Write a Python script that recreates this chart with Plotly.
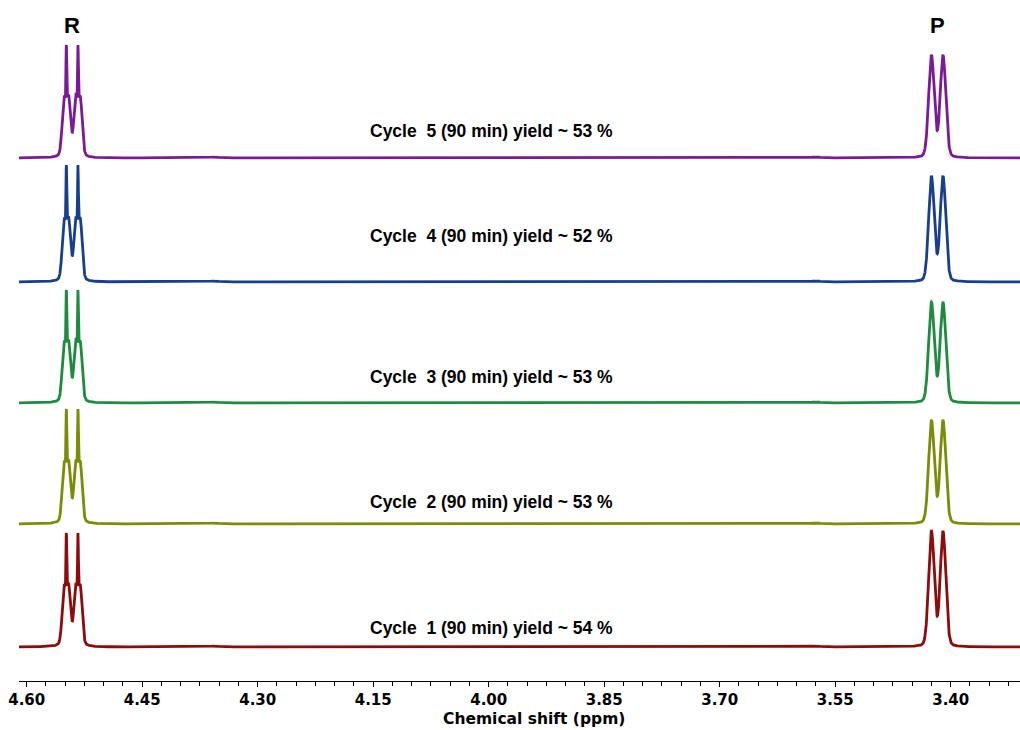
import numpy as np
import plotly.graph_objects as go

# ---- data -----------------------------------------------------------------
cycles = [1, 2, 3, 4, 5]
yields = [54, 53, 53, 52, 53]          # % yield per cycle
reactant_height = [114, 115, 113, 117, 113]   # R multiplet max intensity (a.u.)
product_height = [116, 104, 101, 106, 103]    # P doublet max intensity (a.u.)

r_lines = [4.5485, 4.5334]     # R doublet line positions (ppm)
p_lines = [3.4250, 3.4100]     # P doublet line positions (ppm)
minor_lines = [4.356, 3.575]   # weak baseline features (ppm)
minor_height = [1.0, 1.0]

tick_vals = [4.60, 4.45, 4.30, 4.15, 4.00, 3.85, 3.70, 3.55, 3.40]

# ---- styling --------------------------------------------------------------
colors = ["#8e0b0b", "#7b8c05", "#1d8c3c", "#173f8e", "#7a1a98"]
offsets = [34, 157, 278, 399, 523]
label_y = [53, 179, 304, 445, 550]

ppm = np.linspace(4.61, 3.31, 9000)


def lorentz(x, x0, w):
    return 1.0 / (1.0 + ((x - x0) / w) ** 2)


def gauss(x, x0, s):
    return np.exp(-0.5 * ((x - x0) / s) ** 2)


def r_shape(x):
    s = np.zeros_like(x)
    for c in r_lines:
        s += 0.50 * gauss(x, c, 0.0005)
        for d in (-0.003, 0.003):
            s += 0.42 * gauss(x, c + d, 0.0024) + 0.07 * lorentz(x, c + d, 0.004)
    return s / s.max()


def p_shape(x):
    s = np.zeros_like(x)
    for c in p_lines:
        s += 0.86 * gauss(x, c, 0.0036) + 0.14 * lorentz(x, c, 0.0045)
    return s / s.max()


def minor_shape(x):
    s = np.zeros_like(x)
    for c, h in zip(minor_lines, minor_height):
        s += h * lorentz(x, c, 0.008)
    return s


fig = go.Figure()
for i, cyc in enumerate(cycles):
    y = (reactant_height[i] * r_shape(ppm)
         + product_height[i] * p_shape(ppm)
         + minor_shape(ppm) + offsets[i])
    fig.add_trace(go.Scatter(
        x=ppm, y=y, mode="lines",
        line=dict(color=colors[i], width=2.8),
        name=f"Cycle {cyc}", hoverinfo="skip", showlegend=False,
    ))
    fig.add_annotation(
        x=3.997, y=label_y[i], xref="x", yref="y",
        text=f"<b>Cycle  {cyc} (90 min) yield ~ {yields[i]} %</b>",
        showarrow=False,
        font=dict(family="Liberation Sans, Arial", size=17.5, color="black"),
    )

for txt, xv in [("R", 4.541), ("P", 3.4175)]:
    fig.add_annotation(
        x=xv, y=656, xref="x", yref="y", text=f"<b>{txt}</b>",
        showarrow=False,
        font=dict(family="Liberation Sans, Arial", size=22, color="black"),
    )

fig.add_annotation(
    x=3.941, y=-49 / 681, xref="x", yref="paper", yanchor="bottom",
    text="<b>Chemical shift (ppm)</b>", showarrow=False,
    font=dict(family="DejaVu Sans", size=15.5, color="black"),
)

fig.update_layout(
    width=1020, height=730,
    margin=dict(l=19, r=0, t=0, b=49),
    paper_bgcolor="white", plot_bgcolor="white",
    xaxis=dict(
        range=[4.61, 3.31], autorange=False,
        tickvals=tick_vals, ticktext=[f"<b>{v:.2f}</b>" for v in tick_vals],
        ticks="outside", ticklen=5, tickwidth=1, tickcolor="black",
        ticklabelstandoff=0,
        showline=True, linecolor="black", linewidth=1,
        showgrid=False, zeroline=False,
        tickfont=dict(family="DejaVu Sans", size=15, color="black"),
        minor=dict(dtick=0.025, tick0=4.60, ticks="outside", ticklen=4,
                   tickcolor="black", showgrid=False),
    ),
    yaxis=dict(range=[0, 681], visible=False, showgrid=False, zeroline=False),
)

fig.write_html("out.html")
